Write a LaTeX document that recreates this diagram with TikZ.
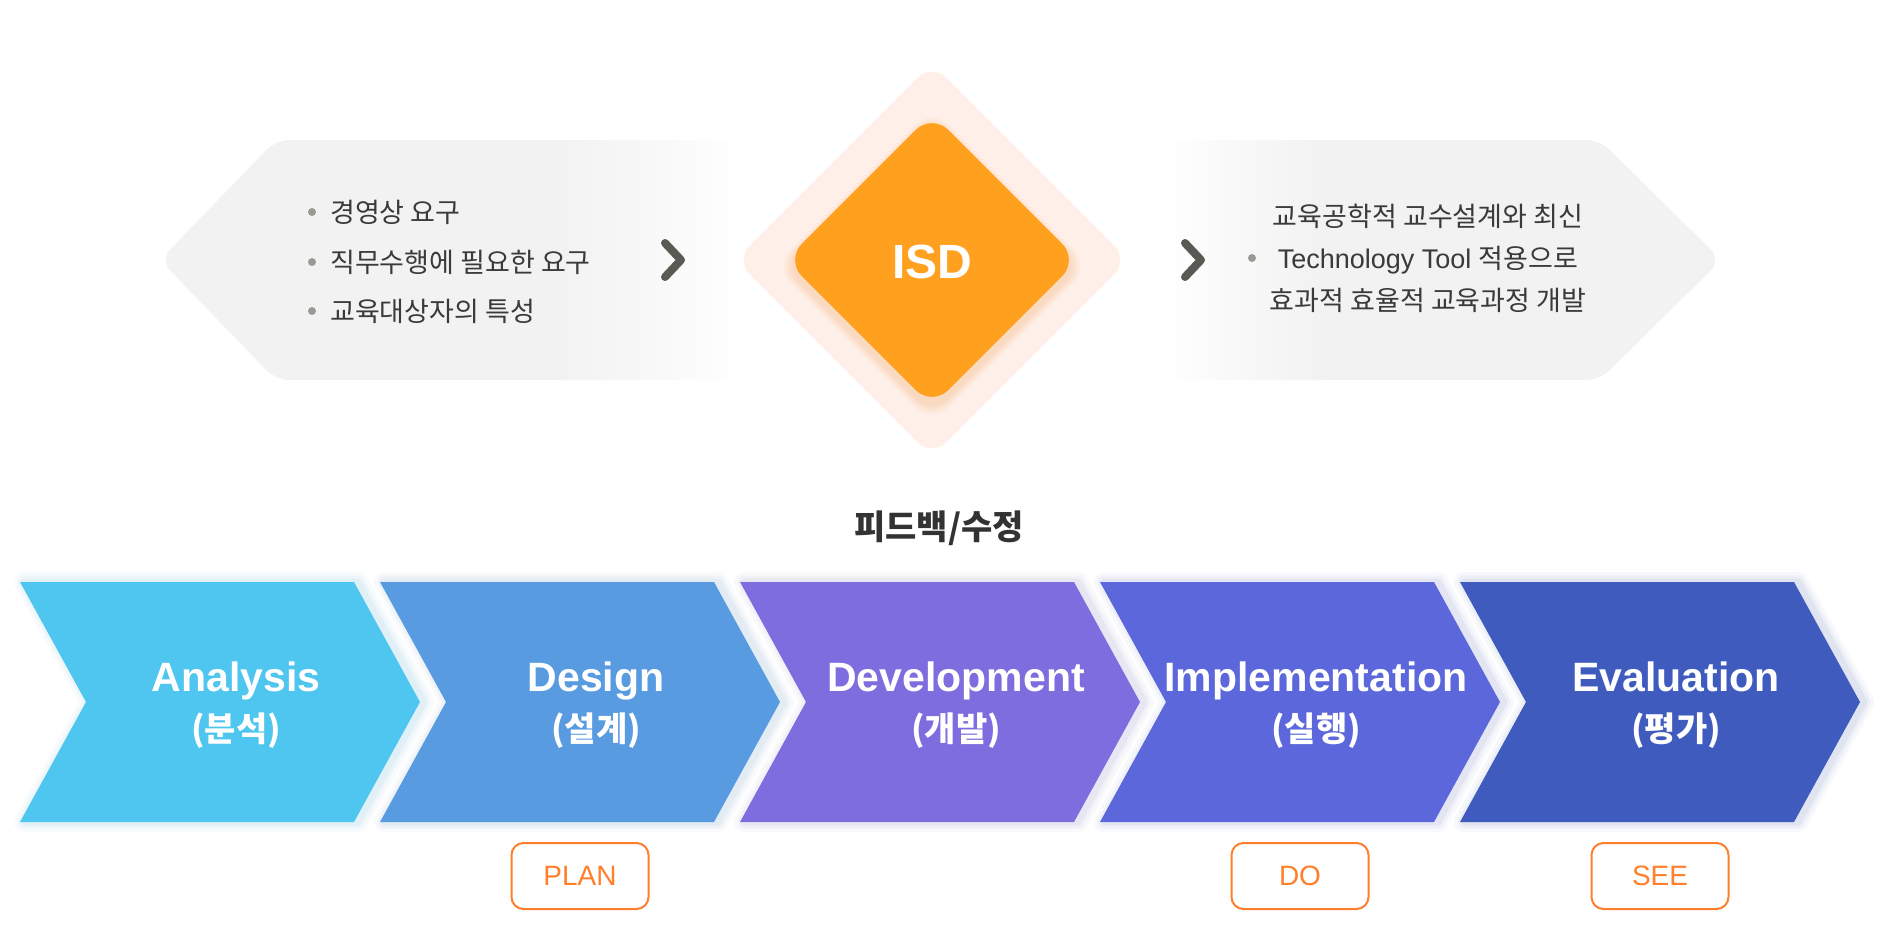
\documentclass[tikz,border=0pt]{standalone}
\usepackage{fontspec}
\setmainfont{Liberation Sans}
\newfontfamily\kr{Noto Sans CJK KR}
\definecolor{pgray}{HTML}{F2F2F2}
\definecolor{txtgray}{HTML}{3A3A3A}
\definecolor{dotgray}{HTML}{9A9A95}
\definecolor{chevgray}{HTML}{5A5A55}
\definecolor{isdorange}{HTML}{FFA01E}
\definecolor{isdpeach}{HTML}{FEF0E8}
\definecolor{isdshadow}{HTML}{F08A3A}
\definecolor{boxorange}{HTML}{FF7F2A}
\definecolor{cA}{HTML}{4FC6EF}
\definecolor{cB}{HTML}{589BE0}
\definecolor{cC}{HTML}{7E6DDE}
\definecolor{cD}{HTML}{5B67DB}
\definecolor{cE}{HTML}{3F5BBE}
\definecolor{headgray}{HTML}{333333}
\tikzset{
  stagetitle/.style={font=\fontsize{41}{48}\selectfont\bfseries, text=white, anchor=base, inner sep=0},
  stagesub/.style={font=\kr\fontsize{34}{40}\selectfont\bfseries, text=white, anchor=base, inner sep=0},
  bodytext/.style={font=\kr\fontsize{27}{32}\selectfont, text=txtgray, inner sep=0},
  bulletdot/.style={circle, fill=dotgray, inner sep=0, minimum size=8},
  gtmark/.style={draw=chevgray, line width=8, line cap=round, line join=round},
  pdsbox/.style={draw=boxorange, line width=2, rounded corners=12, minimum width=137, minimum height=66, text=boxorange, font=\fontsize{28}{34}\selectfont, inner sep=0},
  diamondbox/.style={rotate=45, rounded corners=#1, inner sep=0, draw=none},
}
\newcommand\chevstage[6]{%
  \foreach \w/\o in {20/0.035,13/0.05,7/0.07}{
    \draw[#2!85!black, line width=\w, opacity=\o, line join=round, xshift=4]
      (#1,582) -- ({#1+334},582) -- ({#1+400},702) -- ({#1+334},822) -- (#1,822) -- ({#1+66},702) -- cycle;}
  \fill[#2] (#1,582) -- ({#1+334},582) -- ({#1+400},702) -- ({#1+334},822) -- (#1,822) -- ({#1+66},702) -- cycle;
  \node[stagetitle] (#3) at ({#1+216},691) {#4};
  \node[stagesub] (#3k) at ({#1+216},741) {#5};
}
\begin{document}
\begin{tikzpicture}[x=1pt,y=-1pt]
\useasboundingbox (0,0) rectangle (1880,930);
\fill[white] (0,0) rectangle (1880,930);
% left panel
\begin{scope}
  \clip[rounded corners=14] (160,260) -- (276,140) -- (800,140) -- (800,380) -- (276,380) -- cycle;
  \fill[pgray] (150,130) rectangle (561,390);
  \shade[left color=pgray, right color=white] (560,130) rectangle (748,390);
\end{scope}
% right panel
\begin{scope}
  \clip[rounded corners=14] (1100,140) -- (1600,140) -- (1721,260) -- (1600,380) -- (1100,380) -- cycle;
  \shade[left color=white, right color=pgray] (1160,130) rectangle (1320,390);
  \fill[pgray] (1319,130) rectangle (1730,390);
\end{scope}
% left texts
\node[bulletdot] (lb1) at (312,212) {};
\node[bulletdot] (lb2) at (312,262) {};
\node[bulletdot] (lb3) at (312,311) {};
\node[bodytext, anchor=base west] (l1) at (330,222) {경영상 요구};
\node[bodytext, anchor=base west] (l2) at (330,272) {직무수행에 필요한 요구};
\node[bodytext, anchor=base west] (l3) at (330,321) {교육대상자의 특성};
\draw[gtmark] (665,243) -- (681,260) -- (665,277);
% right texts
\node[bulletdot] (rb) at (1252,258) {};
\node[bodytext, anchor=base] (r1) at (1428,226) {교육공학적 교수설계와 최신};
\node[bodytext, anchor=base, font=\fontsize{27}{32}\selectfont] (r2) at (1428,268) {Technology Tool {\kr 적용으로}};
\node[bodytext, anchor=base] (r3) at (1428,310) {효과적 효율적 교육과정 개발};
\draw[gtmark] (1185,243) -- (1201,260) -- (1185,277);
% ISD diamond
\node[diamondbox=20, fill=isdpeach, minimum size=278] (isdouter) at (932,260) {};
\foreach \k in {16,12,8,4}{
  \node[diamondbox=23, fill=isdshadow, opacity=0.06, minimum size={207+\k}] at (932,266) {};}
\node[diamondbox=23, fill=isdorange, minimum size=207] (isdinner) at (932,260) {};
\node[font=\fontsize{48}{56}\selectfont\bfseries, text=white, anchor=base, inner sep=0] (isd) at (932,278) {ISD};
% feedback heading
\node[font=\kr\fontsize{34}{40}\selectfont\bfseries, text=headgray, anchor=base, inner sep=0] (fb) at (939,539) {피드백/수정};
% stages
\chevstage{20}{cA}{an}{Analysis}{(분석)}{}
\chevstage{380}{cB}{de}{Design}{(설계)}{}
\chevstage{740}{cC}{dv}{Development}{(개발)}{}
\chevstage{1100}{cD}{im}{Implementation}{(실행)}{}
\chevstage{1460}{cE}{ev}{Evaluation}{(평가)}{}
% PDS boxes
\node[pdsbox] (plan) at (580,876) {PLAN};
\node[pdsbox] (do) at (1300,876) {DO};
\node[pdsbox] (see) at (1660,876) {SEE};
\end{tikzpicture}
\end{document}
